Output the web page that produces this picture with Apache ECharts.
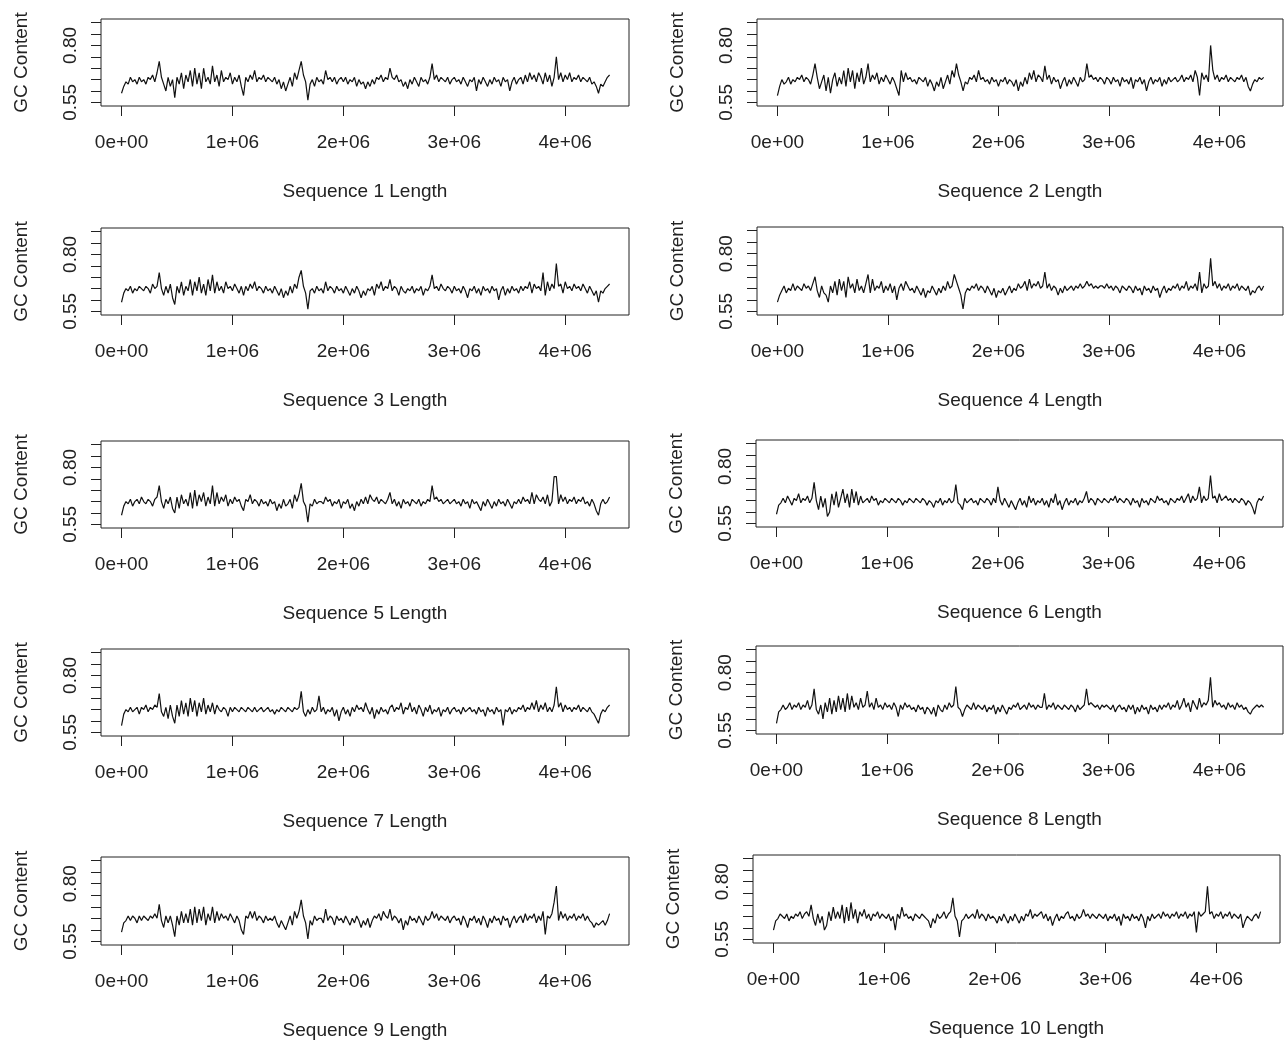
<!DOCTYPE html>
<html lang="en">
<head>
  <meta charset="UTF-8">
  <title>GC Content</title>
  <script src="https://cdn.jsdelivr.net/npm/echarts@6/dist/echarts.min.js"></script>
  <style>
    html, body { margin: 0; padding: 0; background: #fff; }
    #main { width: 1285px; height: 1041px; }
  </style>
</head>
<body>
  <div id="main"></div>
  <script>
    // window step along the genome (bp)
    var windowStep = 20000;

    var xTicks = [0, 1000000, 2000000, 3000000, 4000000];
    var xTickLabels = ['0e+00', '1e+06', '2e+06', '3e+06', '4e+06'];
    var yTicks = [0.55, 0.60, 0.65, 0.70, 0.75, 0.80, 0.85, 0.90];
    var yLabelTicks = [0.55, 0.80];

    var seq1 = [
      0.59, 0.62, 0.64, 0.63, 0.66, 0.64, 0.65, 0.63, 0.66, 0.64,
      0.65, 0.63, 0.66, 0.65, 0.67, 0.64, 0.68, 0.73, 0.66, 0.63,
      0.60, 0.66, 0.62, 0.65, 0.57, 0.66, 0.63, 0.68, 0.61, 0.67,
      0.64, 0.69, 0.62, 0.70, 0.63, 0.68, 0.61, 0.70, 0.64, 0.66,
      0.63, 0.71, 0.64, 0.67, 0.62, 0.69, 0.64, 0.66, 0.65, 0.68,
      0.63, 0.66, 0.64, 0.67, 0.62, 0.58, 0.66, 0.64, 0.67, 0.65,
      0.69, 0.64, 0.66, 0.65, 0.67, 0.64, 0.66, 0.65, 0.64, 0.66,
      0.63, 0.65, 0.61, 0.64, 0.60, 0.63, 0.66, 0.62, 0.68, 0.65,
      0.69, 0.73, 0.67, 0.64, 0.56, 0.63, 0.65, 0.62, 0.66, 0.64,
      0.65, 0.63, 0.69, 0.65, 0.66, 0.64, 0.66, 0.63, 0.65, 0.66,
      0.64, 0.66, 0.63, 0.65, 0.64, 0.66, 0.62, 0.65, 0.63, 0.64,
      0.61, 0.64, 0.62, 0.65, 0.63, 0.66, 0.65, 0.67, 0.64, 0.66,
      0.65, 0.70, 0.66, 0.65, 0.67, 0.64, 0.65, 0.62, 0.64, 0.61,
      0.65, 0.63, 0.66, 0.64, 0.62, 0.66, 0.64, 0.65, 0.63, 0.66,
      0.72, 0.65, 0.67, 0.64, 0.66, 0.65, 0.64, 0.66, 0.63, 0.65,
      0.66, 0.64, 0.65, 0.63, 0.66, 0.64, 0.62, 0.65, 0.64, 0.66,
      0.60, 0.65, 0.63, 0.66, 0.64, 0.62, 0.65, 0.63, 0.66, 0.64,
      0.65, 0.62, 0.66, 0.64, 0.65, 0.60, 0.64, 0.66, 0.63, 0.65,
      0.66, 0.63, 0.67, 0.64, 0.68, 0.65, 0.67, 0.64, 0.68, 0.66,
      0.63, 0.68, 0.64, 0.67, 0.62, 0.66, 0.75, 0.65, 0.68, 0.64,
      0.67, 0.65, 0.68, 0.64, 0.66, 0.65, 0.67, 0.64, 0.66, 0.65,
      0.64, 0.66, 0.63, 0.64, 0.62, 0.59, 0.63, 0.62, 0.64, 0.66,
      0.67
    ];
    var seq2 = [
      0.58, 0.62, 0.65, 0.63, 0.64, 0.66, 0.63, 0.65, 0.64, 0.66,
      0.65, 0.67, 0.64, 0.66, 0.65, 0.63, 0.67, 0.72, 0.66, 0.61,
      0.64, 0.67, 0.60, 0.66, 0.59, 0.65, 0.68, 0.62, 0.66, 0.63,
      0.69, 0.62, 0.70, 0.64, 0.69, 0.61, 0.68, 0.64, 0.70, 0.63,
      0.66, 0.72, 0.64, 0.67, 0.65, 0.68, 0.63, 0.66, 0.64, 0.67,
      0.65, 0.63, 0.66, 0.64, 0.61, 0.58, 0.69, 0.64, 0.68, 0.65,
      0.66, 0.64, 0.65, 0.63, 0.66, 0.65, 0.64, 0.66, 0.62, 0.65,
      0.63, 0.60, 0.64, 0.62, 0.66, 0.61, 0.64, 0.67, 0.63, 0.69,
      0.66, 0.72, 0.67, 0.64, 0.60, 0.64, 0.63, 0.66, 0.65, 0.67,
      0.64, 0.69, 0.65, 0.66, 0.64, 0.65, 0.63, 0.66, 0.64, 0.65,
      0.62, 0.65, 0.64, 0.66, 0.63, 0.65, 0.64, 0.62, 0.65, 0.60,
      0.64, 0.62, 0.66, 0.63, 0.68, 0.65, 0.69, 0.64, 0.67, 0.66,
      0.64, 0.71, 0.65, 0.67, 0.63, 0.66, 0.64, 0.65, 0.61, 0.64,
      0.66, 0.62, 0.65, 0.63, 0.66, 0.64, 0.62, 0.66, 0.64, 0.65,
      0.72, 0.66, 0.67, 0.65, 0.66, 0.64, 0.66, 0.65, 0.63, 0.66,
      0.65, 0.63, 0.66, 0.64, 0.65, 0.62, 0.66, 0.64, 0.65, 0.63,
      0.66, 0.61, 0.65, 0.64, 0.66, 0.63, 0.65, 0.60, 0.64, 0.66,
      0.63, 0.65, 0.64, 0.66, 0.62, 0.65, 0.63, 0.66, 0.64, 0.65,
      0.66, 0.64, 0.65, 0.67, 0.64, 0.66, 0.65, 0.67, 0.64, 0.69,
      0.66, 0.58, 0.68, 0.65, 0.67, 0.64, 0.80, 0.69, 0.65, 0.67,
      0.64, 0.66, 0.65, 0.67, 0.64, 0.66, 0.65, 0.64, 0.66, 0.65,
      0.67, 0.64, 0.66, 0.62, 0.60, 0.63, 0.65, 0.64, 0.66, 0.65,
      0.66
    ];
    var seq3 = [
      0.59, 0.63, 0.65, 0.64, 0.66, 0.63, 0.65, 0.64, 0.66, 0.65,
      0.64, 0.66, 0.65, 0.63, 0.67, 0.65, 0.66, 0.72, 0.65, 0.62,
      0.66, 0.63, 0.67, 0.61, 0.58, 0.66, 0.63, 0.68, 0.62, 0.66,
      0.64, 0.69, 0.62, 0.68, 0.64, 0.70, 0.63, 0.67, 0.62, 0.69,
      0.64, 0.71, 0.63, 0.68, 0.64, 0.66, 0.63, 0.68, 0.65, 0.66,
      0.64, 0.67, 0.65, 0.63, 0.66, 0.62, 0.66, 0.64, 0.67, 0.65,
      0.68, 0.64, 0.66, 0.65, 0.63, 0.66, 0.64, 0.65, 0.63, 0.66,
      0.64, 0.62, 0.65, 0.61, 0.64, 0.62, 0.66, 0.63, 0.67, 0.65,
      0.70, 0.73, 0.66, 0.63, 0.56, 0.64, 0.65, 0.63, 0.66, 0.64,
      0.65, 0.63, 0.68, 0.64, 0.66, 0.65, 0.63, 0.66, 0.64, 0.65,
      0.63, 0.66, 0.64, 0.62, 0.65, 0.63, 0.66, 0.64, 0.61, 0.64,
      0.62, 0.65, 0.64, 0.66, 0.62, 0.67, 0.65, 0.68, 0.64, 0.66,
      0.65, 0.69, 0.64, 0.66, 0.65, 0.62, 0.66, 0.64, 0.63, 0.65,
      0.64, 0.66, 0.63, 0.65, 0.64, 0.66, 0.62, 0.65, 0.64, 0.66,
      0.71, 0.65, 0.66, 0.64, 0.67, 0.65, 0.64, 0.66, 0.65, 0.63,
      0.66, 0.64, 0.65, 0.63, 0.66, 0.64, 0.61, 0.65, 0.64, 0.66,
      0.63, 0.65, 0.62, 0.66, 0.64, 0.65, 0.63, 0.66, 0.64, 0.65,
      0.60, 0.64, 0.66, 0.62, 0.65, 0.63, 0.66, 0.64, 0.65, 0.63,
      0.66, 0.64, 0.66, 0.65, 0.68, 0.63, 0.67, 0.65, 0.66, 0.64,
      0.72, 0.62, 0.68, 0.64, 0.67, 0.65, 0.76, 0.66, 0.67, 0.63,
      0.68, 0.65, 0.66, 0.64, 0.67, 0.65, 0.66, 0.64, 0.67, 0.65,
      0.63, 0.66, 0.64, 0.62, 0.64, 0.59, 0.64, 0.63, 0.65, 0.66,
      0.67
    ];
    var seq4 = [
      0.59, 0.62, 0.64, 0.66, 0.63, 0.65, 0.64, 0.67, 0.64, 0.66,
      0.65, 0.64, 0.67, 0.65, 0.66, 0.64, 0.67, 0.70, 0.64, 0.61,
      0.66, 0.63, 0.62, 0.59, 0.66, 0.63, 0.68, 0.62, 0.69, 0.64,
      0.68, 0.61, 0.70, 0.65, 0.67, 0.63, 0.69, 0.64, 0.66, 0.63,
      0.67, 0.71, 0.63, 0.69, 0.64, 0.66, 0.65, 0.68, 0.63, 0.66,
      0.64, 0.67, 0.63, 0.66, 0.60, 0.65, 0.67, 0.64, 0.68, 0.66,
      0.64, 0.65, 0.63, 0.66, 0.64, 0.62, 0.65, 0.61, 0.64, 0.63,
      0.66, 0.64, 0.62, 0.65, 0.63, 0.66, 0.64, 0.68, 0.65, 0.66,
      0.71, 0.68, 0.65, 0.62, 0.56, 0.63, 0.65, 0.64, 0.66, 0.65,
      0.67, 0.64, 0.66, 0.65, 0.63, 0.66, 0.64, 0.62, 0.65, 0.61,
      0.64, 0.63, 0.65, 0.62, 0.64, 0.66, 0.63, 0.65, 0.64, 0.67,
      0.65, 0.66, 0.68, 0.64, 0.69, 0.65, 0.67, 0.66, 0.68, 0.65,
      0.66, 0.72, 0.65, 0.67, 0.64, 0.66, 0.65, 0.62, 0.65, 0.63,
      0.66, 0.64, 0.65, 0.66, 0.64, 0.66, 0.65, 0.67, 0.65, 0.66,
      0.68, 0.66, 0.67, 0.65, 0.66, 0.65, 0.66, 0.66, 0.65, 0.67,
      0.65, 0.66, 0.64, 0.66, 0.65, 0.63, 0.66, 0.65, 0.64, 0.66,
      0.65, 0.63, 0.66, 0.64, 0.65, 0.62, 0.66, 0.64, 0.65, 0.63,
      0.66, 0.64, 0.65, 0.61, 0.64, 0.66, 0.63, 0.65, 0.64, 0.66,
      0.65, 0.67, 0.64, 0.66, 0.65, 0.68, 0.64, 0.66, 0.65, 0.67,
      0.64, 0.72, 0.63, 0.67, 0.65, 0.66, 0.78, 0.66, 0.68, 0.65,
      0.67, 0.64, 0.66, 0.65, 0.67, 0.64, 0.66, 0.65, 0.67, 0.64,
      0.66, 0.65, 0.64, 0.66, 0.62, 0.64, 0.63, 0.65, 0.66, 0.64,
      0.66
    ];
    var seq5 = [
      0.59, 0.63, 0.65, 0.64, 0.66, 0.63, 0.65, 0.66, 0.64, 0.67,
      0.65, 0.64, 0.66, 0.65, 0.63, 0.66, 0.67, 0.72, 0.65, 0.62,
      0.66, 0.64, 0.67, 0.62, 0.60, 0.67, 0.62, 0.68, 0.64, 0.66,
      0.63, 0.69, 0.62, 0.70, 0.63, 0.68, 0.65, 0.69, 0.63, 0.67,
      0.64, 0.72, 0.63, 0.69, 0.64, 0.67, 0.65, 0.68, 0.63, 0.66,
      0.64, 0.67, 0.65, 0.66, 0.63, 0.61, 0.66, 0.65, 0.68, 0.64,
      0.66, 0.65, 0.63, 0.66, 0.64, 0.65, 0.63, 0.66, 0.64, 0.65,
      0.61, 0.64, 0.62, 0.66, 0.63, 0.64, 0.66, 0.62, 0.68, 0.65,
      0.68, 0.73, 0.65, 0.63, 0.56, 0.64, 0.63, 0.66, 0.64, 0.65,
      0.65, 0.64, 0.67, 0.65, 0.66, 0.63, 0.65, 0.64, 0.66, 0.62,
      0.65, 0.64, 0.66, 0.62, 0.64, 0.61, 0.65, 0.63, 0.66, 0.64,
      0.67, 0.64, 0.68, 0.66, 0.65, 0.67, 0.64, 0.66, 0.65, 0.64,
      0.66, 0.69, 0.64, 0.66, 0.63, 0.65, 0.62, 0.66, 0.64, 0.65,
      0.63, 0.66, 0.65, 0.64, 0.66, 0.63, 0.65, 0.64, 0.66, 0.65,
      0.72, 0.66, 0.67, 0.65, 0.66, 0.64, 0.65, 0.66, 0.64, 0.65,
      0.66, 0.64, 0.65, 0.63, 0.66, 0.64, 0.65, 0.62, 0.66, 0.64,
      0.65, 0.63, 0.61, 0.65, 0.63, 0.66, 0.64, 0.62, 0.65, 0.63,
      0.66, 0.64, 0.65, 0.63, 0.66, 0.64, 0.62, 0.65, 0.64, 0.66,
      0.64, 0.67, 0.65, 0.66, 0.64, 0.69, 0.64, 0.68, 0.66, 0.65,
      0.67, 0.64, 0.68, 0.63, 0.65, 0.76, 0.76, 0.64, 0.68, 0.65,
      0.67, 0.64, 0.66, 0.65, 0.67, 0.64, 0.66, 0.65, 0.67, 0.64,
      0.65, 0.63, 0.66, 0.64, 0.61, 0.59, 0.64, 0.66, 0.64, 0.65,
      0.67
    ];
    var seq6 = [
      0.59, 0.63, 0.64, 0.66, 0.64, 0.67, 0.65, 0.63, 0.66, 0.65,
      0.68, 0.64, 0.66, 0.65, 0.67, 0.64, 0.66, 0.73, 0.65, 0.61,
      0.67, 0.62, 0.66, 0.58, 0.60, 0.68, 0.63, 0.69, 0.62, 0.66,
      0.70, 0.64, 0.68, 0.62, 0.70, 0.64, 0.69, 0.63, 0.67, 0.64,
      0.65, 0.66, 0.64, 0.67, 0.65, 0.66, 0.63, 0.65, 0.64, 0.66,
      0.65, 0.64, 0.66, 0.65, 0.64, 0.66, 0.65, 0.63, 0.65, 0.64,
      0.66, 0.65, 0.64, 0.66, 0.65, 0.64, 0.66, 0.65, 0.63, 0.65,
      0.64, 0.62, 0.65, 0.64, 0.66, 0.63, 0.65, 0.64, 0.66, 0.64,
      0.65, 0.72, 0.64, 0.63, 0.61, 0.66, 0.64, 0.65, 0.66, 0.64,
      0.65, 0.63, 0.66, 0.65, 0.64, 0.66, 0.65, 0.63, 0.66, 0.64,
      0.71, 0.65, 0.63, 0.66, 0.64, 0.62, 0.65, 0.63, 0.61, 0.64,
      0.66, 0.63, 0.65, 0.62, 0.67, 0.64, 0.66, 0.63, 0.65, 0.64,
      0.66, 0.63, 0.65, 0.62, 0.66, 0.64, 0.68, 0.63, 0.65, 0.61,
      0.64, 0.66, 0.63, 0.65, 0.64, 0.66, 0.63, 0.65, 0.64, 0.66,
      0.69, 0.64, 0.66, 0.65, 0.63, 0.66, 0.65, 0.64, 0.66, 0.65,
      0.64, 0.66, 0.65, 0.67, 0.64, 0.66, 0.65, 0.64, 0.66, 0.65,
      0.63, 0.66, 0.64, 0.65, 0.62, 0.66, 0.64, 0.65, 0.63, 0.66,
      0.65, 0.64, 0.67, 0.65, 0.66, 0.64, 0.65, 0.63, 0.66, 0.65,
      0.64, 0.66, 0.65, 0.67, 0.64, 0.66, 0.68, 0.64, 0.67, 0.65,
      0.66, 0.71, 0.64, 0.67, 0.65, 0.66, 0.76, 0.66, 0.67, 0.64,
      0.68, 0.65, 0.66, 0.67, 0.65, 0.66, 0.64, 0.66, 0.65, 0.64,
      0.66, 0.65, 0.63, 0.65, 0.64, 0.62, 0.59, 0.64, 0.66, 0.65,
      0.67
    ];
    var seq7 = [
      0.58, 0.63, 0.65, 0.64, 0.66, 0.64, 0.65, 0.66, 0.63, 0.66,
      0.65, 0.67, 0.64, 0.66, 0.65, 0.67, 0.66, 0.72, 0.64, 0.62,
      0.66, 0.61, 0.67, 0.62, 0.59, 0.67, 0.62, 0.69, 0.63, 0.68,
      0.62, 0.70, 0.64, 0.69, 0.62, 0.68, 0.64, 0.70, 0.63, 0.67,
      0.64, 0.68, 0.63, 0.67, 0.65, 0.64, 0.66, 0.65, 0.62, 0.66,
      0.64, 0.66, 0.65, 0.64, 0.66, 0.65, 0.64, 0.66, 0.65, 0.64,
      0.66, 0.64, 0.65, 0.66, 0.64, 0.65, 0.66, 0.64, 0.65, 0.63,
      0.65, 0.64, 0.66, 0.65, 0.64, 0.66, 0.65, 0.64, 0.66, 0.65,
      0.66, 0.73, 0.64, 0.62, 0.65, 0.63, 0.66, 0.64, 0.65, 0.71,
      0.64, 0.66, 0.63, 0.65, 0.64, 0.66, 0.62, 0.65, 0.60, 0.64,
      0.66, 0.63, 0.65, 0.62, 0.66, 0.64, 0.67, 0.65, 0.66, 0.64,
      0.68, 0.65, 0.63, 0.66, 0.61, 0.65, 0.63, 0.66, 0.64, 0.65,
      0.63, 0.66, 0.67, 0.64, 0.66, 0.65, 0.68, 0.63, 0.66, 0.65,
      0.68, 0.64, 0.66, 0.63, 0.67, 0.65, 0.62, 0.66, 0.64, 0.67,
      0.63, 0.65, 0.64, 0.66, 0.62, 0.65, 0.64, 0.66, 0.63, 0.65,
      0.66, 0.64, 0.65, 0.63, 0.66, 0.64, 0.65, 0.66, 0.64, 0.65,
      0.63, 0.66, 0.64, 0.65, 0.62, 0.66, 0.64, 0.65, 0.63, 0.66,
      0.64, 0.65, 0.58, 0.65, 0.64, 0.66, 0.63, 0.65, 0.64, 0.66,
      0.65, 0.67, 0.64, 0.66, 0.65, 0.68, 0.65, 0.69, 0.64, 0.67,
      0.65, 0.68, 0.64, 0.66, 0.64, 0.67, 0.75, 0.66, 0.68, 0.64,
      0.67, 0.65, 0.66, 0.64, 0.66, 0.65, 0.67, 0.64, 0.66, 0.65,
      0.64, 0.66, 0.64, 0.63, 0.61, 0.59, 0.63, 0.65, 0.64, 0.66,
      0.67
    ];
    var seq8 = [
      0.58, 0.63, 0.64, 0.66, 0.64, 0.65, 0.67, 0.64, 0.66, 0.65,
      0.67, 0.64, 0.66, 0.65, 0.68, 0.64, 0.66, 0.73, 0.64, 0.62,
      0.66, 0.60, 0.67, 0.63, 0.69, 0.62, 0.68, 0.63, 0.70, 0.64,
      0.69, 0.63, 0.71, 0.64, 0.70, 0.65, 0.67, 0.64, 0.69, 0.65,
      0.66, 0.72, 0.65, 0.67, 0.64, 0.69, 0.65, 0.66, 0.64, 0.67,
      0.65, 0.66, 0.64, 0.67, 0.65, 0.61, 0.66, 0.64, 0.67, 0.65,
      0.66, 0.64, 0.65, 0.63, 0.66, 0.64, 0.65, 0.62, 0.65, 0.64,
      0.62, 0.65, 0.61, 0.66, 0.64, 0.63, 0.66, 0.64, 0.67, 0.65,
      0.66, 0.74, 0.65, 0.64, 0.61, 0.64, 0.66, 0.65, 0.64, 0.67,
      0.64, 0.66, 0.65, 0.64, 0.66, 0.63, 0.65, 0.64, 0.66, 0.62,
      0.65, 0.63, 0.66, 0.64, 0.62, 0.65, 0.64, 0.66, 0.65, 0.67,
      0.64, 0.65, 0.66, 0.64, 0.67, 0.65, 0.66, 0.64, 0.66, 0.65,
      0.65, 0.71, 0.64, 0.66, 0.65, 0.67, 0.64, 0.66, 0.65, 0.64,
      0.66, 0.65, 0.64, 0.66, 0.65, 0.63, 0.66, 0.64, 0.65, 0.66,
      0.73, 0.66, 0.67, 0.66, 0.65, 0.66, 0.64, 0.66, 0.65, 0.66,
      0.65, 0.64, 0.66, 0.63, 0.65, 0.66, 0.64, 0.65, 0.63, 0.66,
      0.64, 0.66, 0.62, 0.65, 0.63, 0.66, 0.64, 0.65, 0.62, 0.66,
      0.64, 0.65, 0.63, 0.66, 0.64, 0.66, 0.65, 0.67, 0.64, 0.66,
      0.65, 0.68, 0.64, 0.66, 0.69, 0.65, 0.67, 0.63, 0.68, 0.66,
      0.64, 0.69, 0.65, 0.67, 0.66, 0.68, 0.78, 0.65, 0.68, 0.66,
      0.67, 0.65, 0.66, 0.64, 0.67, 0.65, 0.66, 0.64, 0.67, 0.65,
      0.66, 0.64, 0.65, 0.63, 0.62, 0.64, 0.65, 0.66, 0.65, 0.66,
      0.65
    ];
    var seq9 = [
      0.59, 0.63, 0.64, 0.66, 0.64, 0.66, 0.65, 0.63, 0.66, 0.64,
      0.66, 0.65, 0.64, 0.66, 0.65, 0.67, 0.65, 0.71, 0.64, 0.61,
      0.66, 0.63, 0.66, 0.62, 0.57, 0.66, 0.62, 0.68, 0.63, 0.67,
      0.63, 0.69, 0.62, 0.70, 0.63, 0.69, 0.64, 0.70, 0.62, 0.67,
      0.64, 0.70, 0.63, 0.68, 0.64, 0.67, 0.65, 0.66, 0.64, 0.67,
      0.65, 0.63, 0.66, 0.64, 0.60, 0.58, 0.66, 0.65, 0.68, 0.65,
      0.68, 0.64, 0.66, 0.65, 0.63, 0.66, 0.64, 0.65, 0.64, 0.66,
      0.63, 0.61, 0.64, 0.62, 0.60, 0.63, 0.66, 0.62, 0.68, 0.65,
      0.68, 0.73, 0.66, 0.63, 0.56, 0.64, 0.62, 0.66, 0.64, 0.65,
      0.65, 0.63, 0.69, 0.64, 0.66, 0.65, 0.62, 0.66, 0.64, 0.65,
      0.63, 0.66, 0.64, 0.62, 0.65, 0.63, 0.66, 0.64, 0.61, 0.64,
      0.62, 0.65, 0.61, 0.64, 0.66, 0.65, 0.67, 0.64, 0.68, 0.66,
      0.65, 0.69, 0.64, 0.66, 0.65, 0.63, 0.65, 0.60, 0.64, 0.62,
      0.66, 0.64, 0.65, 0.63, 0.66, 0.64, 0.62, 0.66, 0.64, 0.65,
      0.68, 0.65, 0.67, 0.64, 0.66, 0.65, 0.64, 0.66, 0.63, 0.65,
      0.66, 0.64, 0.65, 0.62, 0.66, 0.64, 0.61, 0.65, 0.64, 0.66,
      0.63, 0.65, 0.62, 0.66, 0.64, 0.61, 0.65, 0.63, 0.66, 0.64,
      0.65, 0.62, 0.66, 0.64, 0.65, 0.61, 0.64, 0.66, 0.63, 0.65,
      0.66, 0.63, 0.67, 0.64, 0.66, 0.65, 0.67, 0.63, 0.66, 0.64,
      0.68, 0.58, 0.66, 0.65, 0.67, 0.72, 0.79, 0.64, 0.68, 0.65,
      0.67, 0.64, 0.66, 0.65, 0.67, 0.64, 0.66, 0.65, 0.67, 0.64,
      0.66, 0.64, 0.63, 0.61, 0.63, 0.62, 0.63, 0.64, 0.62, 0.64,
      0.67
    ];
    var seq10 = [
      0.59, 0.63, 0.64, 0.66, 0.65, 0.64, 0.66, 0.63, 0.65, 0.64,
      0.66, 0.65, 0.67, 0.64, 0.66, 0.67, 0.65, 0.70, 0.64, 0.61,
      0.66, 0.62, 0.65, 0.59, 0.61, 0.67, 0.63, 0.69, 0.64, 0.67,
      0.64, 0.70, 0.62, 0.69, 0.63, 0.71, 0.64, 0.68, 0.62, 0.67,
      0.65, 0.68, 0.64, 0.66, 0.63, 0.66, 0.65, 0.67, 0.64, 0.66,
      0.65, 0.64, 0.66, 0.63, 0.65, 0.59, 0.66, 0.64, 0.69, 0.65,
      0.66, 0.64, 0.65, 0.63, 0.66, 0.65, 0.64, 0.66, 0.65, 0.64,
      0.63, 0.60, 0.64, 0.62, 0.66, 0.64, 0.65, 0.67, 0.64, 0.66,
      0.67, 0.73, 0.65, 0.63, 0.56, 0.63, 0.64, 0.66, 0.64, 0.65,
      0.66, 0.64, 0.68, 0.64, 0.66, 0.65, 0.63, 0.66, 0.64, 0.65,
      0.64, 0.62, 0.65, 0.63, 0.66, 0.64, 0.62, 0.65, 0.63, 0.66,
      0.64, 0.62, 0.65, 0.63, 0.66, 0.65, 0.68, 0.64, 0.66, 0.65,
      0.66, 0.67, 0.64, 0.66, 0.63, 0.65, 0.61, 0.64, 0.66, 0.63,
      0.65, 0.64, 0.66, 0.67, 0.64, 0.65, 0.63, 0.66, 0.64, 0.65,
      0.68, 0.65, 0.66, 0.64, 0.66, 0.65, 0.64, 0.66, 0.65, 0.64,
      0.66, 0.63, 0.65, 0.64, 0.66, 0.63, 0.65, 0.61, 0.66, 0.64,
      0.65, 0.63, 0.66, 0.64, 0.65, 0.63, 0.66, 0.64, 0.60, 0.65,
      0.63, 0.66, 0.64, 0.65, 0.66, 0.64, 0.67, 0.65, 0.66, 0.64,
      0.66, 0.65, 0.67, 0.64, 0.66, 0.65, 0.67, 0.64, 0.66, 0.65,
      0.67, 0.58, 0.67, 0.65, 0.66, 0.67, 0.78, 0.66, 0.67, 0.64,
      0.66, 0.65, 0.67, 0.64, 0.66, 0.65, 0.67, 0.64, 0.66, 0.65,
      0.64, 0.66, 0.60, 0.63, 0.65, 0.64, 0.63, 0.65, 0.66, 0.64,
      0.67
    ];

    var allSeqs = [seq1, seq2, seq3, seq4, seq5, seq6, seq7, seq8, seq9, seq10];

    // plot boxes [left, top, width, height] in px, one per panel
    var boxes = [
      [101, 19, 528, 87], [757, 19, 526, 87],
      [101, 228, 528, 87], [757, 227, 526, 88],
      [101, 441, 528, 87], [756, 440, 527, 87],
      [101, 649, 528, 87], [756, 646, 527, 88],
      [101, 857, 528, 88], [753, 855, 527, 88]
    ];

    var font = 'Liberation Sans, Arial, Helvetica, sans-serif';
    var ink = '#222';

    var grid = [], xAxis = [], yAxis = [], series = [];

    allSeqs.forEach(function (seq, i) {
      var b = boxes[i];
      grid.push({
        left: b[0], top: b[1], width: b[2], height: b[3],
        show: true, borderColor: ink, borderWidth: 1,
        backgroundColor: 'transparent'
      });
      xAxis.push({
        type: 'value', gridIndex: i,
        min: -185000, max: 4575000,
        splitLine: { show: false },
        axisLine: { show: false, onZero: false },
        axisTick: { show: true, customValues: xTicks, length: 10, lineStyle: { color: ink, width: 1 } },
        axisLabel: {
          customValues: xTicks, margin: 27, fontSize: 19, color: ink, fontFamily: font,
          formatter: function (v) { return xTickLabels[xTicks.indexOf(v)]; }
        },
        name: 'Sequence ' + (i + 1) + ' Length',
        nameLocation: 'middle', nameGap: 76,
        nameTextStyle: { fontSize: 19, color: ink, fontFamily: font }
      });
      yAxis.push({
        type: 'value', gridIndex: i,
        min: 0.534, max: 0.916,
        splitLine: { show: false },
        axisLine: { show: false, onZero: false },
        axisTick: { show: true, customValues: yTicks, length: 10, lineStyle: { color: ink, width: 1 } },
        axisLabel: {
          customValues: yLabelTicks, rotate: 90, margin: 21, fontSize: 19, color: ink, fontFamily: font,
          formatter: function (v) { return v.toFixed(2); }
        },
        name: 'GC Content',
        nameLocation: 'middle', nameGap: 70, nameRotate: 90,
        nameTextStyle: { fontSize: 19, color: ink, fontFamily: font }
      });
      series.push({
        type: 'line', xAxisIndex: i, yAxisIndex: i,
        showSymbol: false, symbol: 'none',
        lineStyle: { color: '#111', width: 1.2 },
        data: seq.map(function (v, k) { return [k * windowStep, v]; })
      });
    });

    var chart = echarts.init(document.getElementById('main'));
    chart.setOption({
      animation: false,
      backgroundColor: '#fff',
      grid: grid,
      xAxis: xAxis,
      yAxis: yAxis,
      series: series
    });
  </script>
</body>
</html>
